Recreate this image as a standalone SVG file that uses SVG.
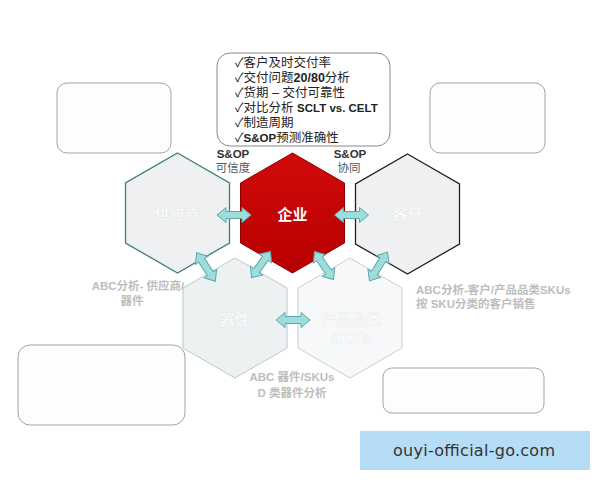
<svg xmlns="http://www.w3.org/2000/svg" width="600" height="480" viewBox="0 0 600 480">
<style>
.box{fill:#ffffff;stroke:#8a8a8a;stroke-width:1}
.fbox{fill:#fdfdfd;stroke:#a3a3a3;stroke-width:1}
.lst{font-family:"Liberation Sans","Noto Sans CJK SC",sans-serif;font-size:12.5px;fill:#222}
.lat{font-family:"Liberation Sans",sans-serif;font-weight:bold}
.lbl{font-family:"Liberation Sans","Noto Sans CJK SC",sans-serif;font-size:11.5px;fill:#333;text-anchor:middle}
.lbl2{font-family:"Liberation Sans","Noto Sans CJK SC",sans-serif;font-size:11.5px;fill:#555;text-anchor:middle}
.cap{font-family:"Liberation Sans","Noto Sans CJK SC",sans-serif;font-size:11.5px;fill:#bdbdbd;font-weight:bold}
.hx{font-family:"Liberation Sans","Noto Sans CJK SC",sans-serif;font-size:15px;text-anchor:middle;font-weight:bold}
.pale{fill:#ffffff;stroke:#e2e6e8;stroke-width:0.4}
.arr{fill:#9fdcdc;stroke:#5aa9a9;stroke-width:1}
</style>
<defs>
<linearGradient id="red" x1="0" y1="0" x2="0" y2="1">
<stop offset="0" stop-color="#d10a0a"/>
<stop offset="1" stop-color="#b80000"/>
</linearGradient>
<path id="dbl" d="M-17,0 L-8,-7.5 L-8,-3.5 L8,-3.5 L8,-7.5 L17,0 L8,7.5 L8,3.5 L-8,3.5 L-8,7.5 Z"/>
</defs>

<g id="box-top">
<rect class="box" x="217" y="53" width="173" height="93" rx="13"/>
<text class="lst" x="235" y="67">✓客户及时交付率</text>
<text class="lst" x="235" y="82">✓交付问题<tspan class="lat">20/80</tspan>分析</text>
<text class="lst" x="235" y="97">✓货期 – 交付可靠性</text>
<text class="lst" x="235" y="112">✓对比分析 <tspan class="lat" font-size="11.5">SCLT vs. CELT</tspan></text>
<text class="lst" x="235" y="127">✓制造周期</text>
<text class="lst" x="235" y="142">✓<tspan class="lat" font-size="11.5">S&amp;OP</tspan>预测准确性</text>
</g>
<g id="box-tl"><rect class="fbox" x="57" y="83" width="114" height="70" rx="10"/></g>
<g id="box-tr"><rect class="fbox" x="430" y="83" width="115" height="70" rx="10"/></g>
<g id="box-bl"><rect class="fbox" x="18" y="345" width="167" height="80" rx="12"/></g>
<g id="box-br"><rect class="fbox" x="383" y="368" width="161" height="45" rx="9"/></g>

<g id="lbl-left">
<text class="lbl" x="233" y="158" font-weight="bold">S&amp;OP</text>
<text class="lbl2" x="233" y="172">可信度</text>
</g>
<g id="lbl-right">
<text class="lbl" x="350" y="158" font-weight="bold">S&amp;OP</text>
<text class="lbl2" x="349" y="172">协同</text>
</g>

<g id="hex-supplier">
<polygon points="177.5,153 229.5,183 229.5,243 177.5,273 125.5,243 125.5,183" fill="#eef0f2" stroke="#3f7f74" stroke-width="1.3"/>
<text class="hx pale" x="177.5" y="220">供应商</text>
</g>
<g id="hex-enterprise">
<polygon points="292.5,153 344.5,183 344.5,243 292.5,273 240.5,243 240.5,183" fill="url(#red)" stroke="#8e0000" stroke-width="1"/>
<text class="hx" x="292.5" y="220" fill="#ffffff">企业</text>
</g>
<g id="hex-customer">
<polygon points="407.5,154 459.5,184 459.5,244 407.5,274 355.5,244 355.5,184" fill="#eef0f2" stroke="#222" stroke-width="1.3"/>
<text class="hx pale" x="407.5" y="219">客户</text>
</g>
<g id="hex-parts">
<polygon points="235,258 287,288 287,348 235,378 183,348 183,288" fill="#eef1f2" stroke="#b7caca" stroke-width="1"/>
<text class="hx pale" x="235" y="325">器件</text>
</g>
<g id="hex-sku">
<polygon points="350,258 402,288 402,348 350,378 298,348 298,288" fill="#f7f8f9" stroke="#c6d0d1" stroke-width="1"/>
<text class="hx pale" x="351" y="325" font-size="14.5">产品品类</text>
<text class="hx pale" x="351" y="343" font-size="14">SKUs</text>
</g>

<g id="connectors">
<use href="#dbl" class="arr" transform="translate(234,215)"/>
<use href="#dbl" class="arr" transform="translate(351.5,215)"/>
<use href="#dbl" class="arr" transform="translate(206,267) rotate(57)"/>
<use href="#dbl" class="arr" transform="translate(261,264.5) rotate(126) scale(0.95,1)"/>
<use href="#dbl" class="arr" transform="translate(324,265.5) rotate(56)"/>
<use href="#dbl" class="arr" transform="translate(378.5,266.5) rotate(122)"/>
<use href="#dbl" class="arr" transform="translate(293,320)"/>
</g>

<g id="captions">
<text class="cap" x="138" y="290" text-anchor="middle">ABC分析- 供应商/</text>
<text class="cap" x="132" y="305" text-anchor="middle">器件</text>
<text class="cap" x="416" y="294">ABC分析-客户/产品品类SKUs</text>
<text class="cap" x="416" y="308">按 SKU分类的客户销售</text>
<text class="cap" x="292" y="381" text-anchor="middle">ABC 器件/SKUs</text>
<text class="cap" x="292" y="397" text-anchor="middle">D 类器件分析</text>
</g>

<g id="watermark">
<rect x="360" y="431" width="230" height="39" fill="#b5ddf6"/>
<text x="474" y="456" font-family="DejaVu Sans, sans-serif" font-size="16" fill="#333" text-anchor="middle" textLength="162">ouyi-official-go.com</text>
</g>
</svg>
